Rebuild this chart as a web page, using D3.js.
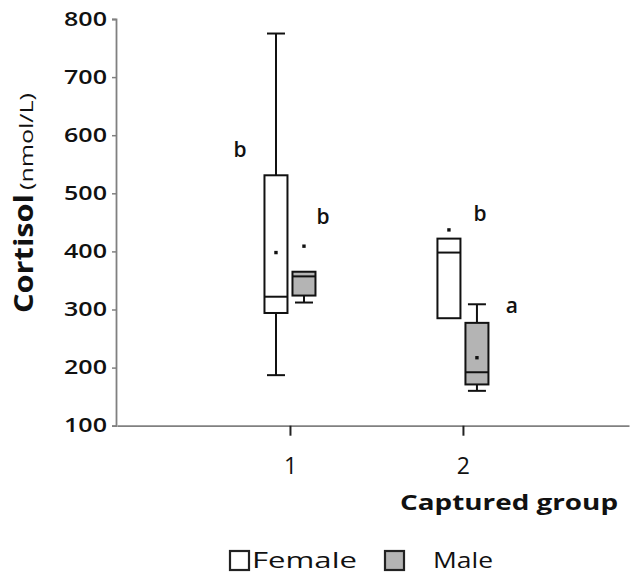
<!DOCTYPE html>
<html>
<head>
<meta charset="utf-8">
<script src="https://cdn.jsdelivr.net/npm/d3@7"></script>
<style>
  body { margin: 0; background: #fff; }
  svg { display: block; }
  text { font-family: "Open Sans", "DejaVu Sans", sans-serif; fill: #111; }
</style>
</head>
<body>
<div id="chart"></div>
<script>
// Cortisol by captured group and sex, box plots

// data (nmol/L)
var groups  = [1, 1, 2, 2]
var sexes   = ['Female', 'Male', 'Female', 'Male']
var minVals = [187, 312, 285, 160]
var q1Vals  = [294, 324, 285, 171]
var medVals = [322, 357, 398, 192]
var q3Vals  = [531, 365, 422, 277]
var maxVals = [775, 365, 422, 309]
var meanVals = [398, 409, 437, 217]
var letters = ['b', 'b', 'b', 'a']

var categories = [1, 2]
var sexNames = ['Female', 'Male']
var yTicks = [100, 200, 300, 400, 500, 600, 700, 800]

var width = 633
var height = 575

var svg = d3.select('#chart')
  .append('svg')
  .attr('width', width)
  .attr('height', height)

// scales
var x = d3.scaleLinear().domain([0, 2.96]).range([117, 629])
var y = d3.scaleLinear().domain([100, 800]).range([425.7, 19])
var offset = d3.scalePoint().domain(sexNames).range([-14, 14])
var fill = d3.scaleOrdinal().domain(sexNames).range(['#ffffff', '#b4b4b4'])
var boxW = 23
var capW = 18

// y axis
var yAxis = svg.append('g')
  .attr('transform', 'translate(116,0)')
  .call(d3.axisLeft(y).tickValues(yTicks).tickSize(4).tickPadding(5))
yAxis.select('.domain').attr('stroke', '#808080').attr('stroke-width', 1.8)
yAxis.selectAll('.tick line').attr('stroke', '#808080').attr('stroke-width', 1.5)
yAxis.selectAll('.tick text')
  .style('font-size', '19.5px')
  .style('font-weight', 600)
  .attr('fill', '#2a2a2a')
  .attr('textLength', 43)
  .attr('lengthAdjust', 'spacingAndGlyphs')

// x axis
var xAxis = svg.append('g')
  .attr('transform', 'translate(0,' + y(100) + ')')
  .call(d3.axisBottom(x).tickValues(categories).tickFormat(d3.format('d'))
    .tickSizeOuter(0).tickSizeInner(10).tickPadding(22))
xAxis.select('.domain').attr('stroke', '#808080').attr('stroke-width', 1.8)
xAxis.selectAll('.tick line').attr('stroke', '#222').attr('stroke-width', 2)
xAxis.selectAll('.tick text').style('font-size', '23px').attr('fill', '#222')

// boxes
var rows = groups.map(function(g, i) {
  return { i: i, g: g, sex: sexes[i], min: minVals[i], q1: q1Vals[i], med: medVals[i],
           q3: q3Vals[i], max: maxVals[i], mean: meanVals[i], letter: letters[i] }
})

function cx(d) { return x(d.g) + offset(d.sex) }

var box = svg.append('g').selectAll('g')
  .data(rows)
  .join('g')

// whiskers
box.filter(function(d) { return d.max > d.q3 }).each(function(d) {
  var s = d3.select(this)
  s.append('line').attr('x1', cx(d)).attr('x2', cx(d)).attr('y1', y(d.max)).attr('y2', y(d.q3))
  s.append('line').attr('x1', cx(d) - capW / 2).attr('x2', cx(d) + capW / 2).attr('y1', y(d.max)).attr('y2', y(d.max))
})
box.filter(function(d) { return d.min < d.q1 }).each(function(d) {
  var s = d3.select(this)
  s.append('line').attr('x1', cx(d)).attr('x2', cx(d)).attr('y1', y(d.q1)).attr('y2', y(d.min))
  s.append('line').attr('x1', cx(d) - capW / 2).attr('x2', cx(d) + capW / 2).attr('y1', y(d.min)).attr('y2', y(d.min))
})

box.append('rect')
  .attr('x', function(d) { return cx(d) - boxW / 2 })
  .attr('y', function(d) { return y(d.q3) })
  .attr('width', boxW)
  .attr('height', function(d) { return y(d.q1) - y(d.q3) })
  .attr('fill', function(d) { return fill(d.sex) })

box.append('line')
  .attr('x1', function(d) { return cx(d) - boxW / 2 })
  .attr('x2', function(d) { return cx(d) + boxW / 2 })
  .attr('y1', function(d) { return y(d.med) })
  .attr('y2', function(d) { return y(d.med) })

box.selectAll('line, rect').attr('stroke', '#111').attr('stroke-width', 2)

// mean markers
box.append('rect')
  .attr('x', function(d) { return cx(d) - 1.7 })
  .attr('y', function(d) { return y(d.mean) - 1.7 })
  .attr('width', 3.4)
  .attr('height', 3.4)
  .attr('fill', '#111')

// significance letters; placement as offset from group centre (px) and height (data units)
var letterDx = [-50, 33, 17, 49]
var letterAt = [562, 447, 453, 294]
box.append('text')
  .attr('x', function(d) { return x(d.g) + letterDx[d.i] })
  .attr('y', function(d) { return y(letterAt[d.i]) })
  .attr('text-anchor', 'middle')
  .style('font-size', '21px')
  .style('font-weight', 600)
  .text(function(d) { return d.letter })

// axis titles
svg.append('text')
  .attr('transform', 'translate(33,253.5) rotate(-90)')
  .attr('text-anchor', 'middle')
  .style('font-weight', 'bold').style('font-size', '27px')
  .attr('textLength', 119).attr('lengthAdjust', 'spacingAndGlyphs')
  .text('Cortisol')
svg.append('text')
  .attr('transform', 'translate(33,141.5) rotate(-90)')
  .attr('text-anchor', 'middle')
  .style('font-size', '18px')
  .attr('textLength', 97).attr('lengthAdjust', 'spacingAndGlyphs')
  .text('(nmol/L)')

svg.append('text')
  .attr('x', 400).attr('y', 510)
  .style('font-weight', 'bold').style('font-size', '21px')
  .attr('textLength', 218).attr('lengthAdjust', 'spacingAndGlyphs')
  .text('Captured group')

// legend
var legendX = [230, 385]
var legendTextX = [252, 433]
var legendTextW = [105, 60]
var legend = svg.append('g').selectAll('g')
  .data(sexNames)
  .join('g')
legend.append('rect')
  .attr('x', function(d, i) { return legendX[i] })
  .attr('y', 551)
  .attr('width', 19).attr('height', 19)
  .attr('fill', function(d) { return fill(d) })
  .attr('stroke', '#222').attr('stroke-width', 2.2)
legend.append('text')
  .attr('x', function(d, i) { return legendTextX[i] })
  .attr('y', 568)
  .style('font-size', '21px')
  .attr('fill', '#222')
  .attr('textLength', function(d, i) { return legendTextW[i] })
  .attr('lengthAdjust', 'spacingAndGlyphs')
  .text(function(d) { return d })
</script>
</body>
</html>
